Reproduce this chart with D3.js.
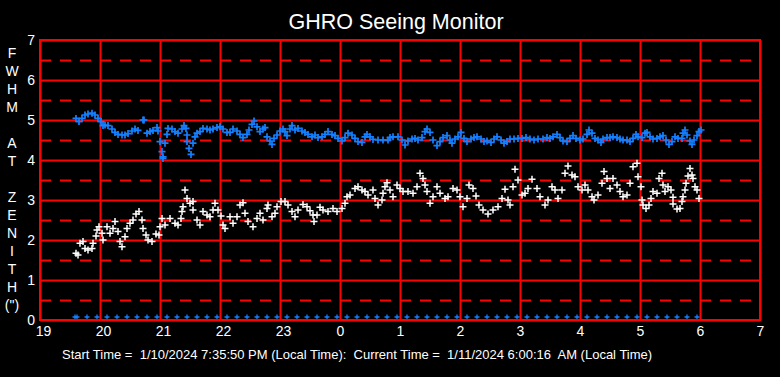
<!DOCTYPE html>
<html><head><meta charset="utf-8">
<script src="https://cdn.jsdelivr.net/npm/d3@7"></script>
<style>
html,body{margin:0;padding:0;background:#000;}
text{font-family:"Liberation Sans",Arial,sans-serif;fill:#fff;white-space:pre;}
</style></head>
<body>
<script>
// minutes since 19:00 local, FWHM (arcsec)
const blueSeries = [
[36,5.04],[39,4.96],[42,5.04],[45,5.125],[48,5.15],[52,5.17],[55,5.125],[58,5.04],[61,4.96],[63,4.86],
[65,4.875],[68,4.86],[72,4.775],[75,4.69],[78,4.64],[82,4.625],[85,4.625],[88,4.66],[92,4.725],[95,4.775],
[98,4.74],[103,5.0],[104,5.0],[107,4.67],[110,4.71],[113,4.74],[117,4.81],[118,4.725],[120,4.46],[125,4.42],
[122,4.21],[123,4.08],[123,4.04],[127,4.64],[128,4.79],[132,4.775],[135,4.71],[138,4.67],[142,4.775],[144,4.86],
[146,4.79],[147,4.625],[147,4.46],[149,4.29],[151,4.14],[153,4.42],[155,4.58],[157,4.67],[160,4.71],[163,4.79],
[167,4.775],[170,4.75],[173,4.775],[177,4.81],[180,4.83],[183,4.775],[187,4.69],[190,4.69],[193,4.775],[197,4.725],
[200,4.64],[203,4.56],[207,4.64],[209,4.75],[212,4.89],[214,4.975],[217,4.83],[220,4.71],[223,4.775],[225,4.81],
[227,4.58],[230,4.475],[232,4.39],[234,4.54],[237,4.625],[240,4.725],[243,4.775],[245,4.71],[247,4.61],[250,4.775],
[252,4.86],[255,4.75],[258,4.79],[262,4.725],[265,4.69],[268,4.64],[272,4.58],[275,4.625],[278,4.56],[282,4.58],
[285,4.64],[288,4.71],[292,4.64],[295,4.61],[298,4.54],[302,4.475],[305,4.56],[308,4.67],[312,4.625],[315,4.54],
[318,4.46],[322,4.44],[325,4.58],[327,4.64],[330,4.58],[333,4.515],[338,4.5],[343,4.5],[348,4.5],[350,4.56],
[353,4.58],[358,4.58],[362,4.5],[365,4.375],[368,4.475],[372,4.525],[375,4.54],[378,4.5],[382,4.56],[385,4.71],
[387,4.775],[390,4.69],[393,4.5],[397,4.36],[400,4.46],[403,4.56],[407,4.61],[410,4.5],[412,4.42],[415,4.525],
[418,4.58],[421,4.69],[424,4.54],[427,4.46],[431,4.525],[434,4.56],[437,4.58],[441,4.525],[444,4.46],[447,4.475],
[451,4.44],[454,4.525],[457,4.58],[461,4.5],[464,4.42],[467,4.46],[470,4.525],[474,4.525],[478,4.54],[482,4.54],
[486,4.56],[490,4.525],[494,4.5],[498,4.525],[503,4.525],[507,4.56],[510,4.54],[513,4.58],[517,4.64],[520,4.56],
[523,4.475],[527,4.46],[530,4.54],[533,4.61],[536,4.54],[540,4.5],[543,4.525],[547,4.64],[549,4.75],[552,4.67],
[555,4.54],[558,4.5],[561,4.44],[563,4.525],[567,4.56],[570,4.56],[573,4.58],[577,4.56],[580,4.525],[583,4.5],
[587,4.5],[590,4.46],[593,4.54],[596,4.64],[598,4.58],[602,4.56],[605,4.67],[607,4.69],[610,4.58],[613,4.525],
[617,4.54],[620,4.58],[623,4.61],[626,4.5],[629,4.39],[632,4.46],[635,4.58],[638,4.54],[642,4.54],[643,4.67],
[645,4.75],[647,4.625],[650,4.475],[652,4.39],[654,4.5],[657,4.61],[659,4.71],[661,4.75]
];
const whiteSeries = [
[36,1.67],[38,1.625],[40,1.92],[43,1.96],[45,1.79],[48,1.75],[52,1.79],[53,1.92],[56,2.1],[57,2.25],
[59,2.33],[62,2.17],[63,2.0],[67,2.33],[70,2.17],[73,2.29],[75,2.46],[78,2.21],[80,1.96],[82,1.83],
[85,2.08],[87,2.29],[90,2.42],[93,2.5],[96,2.65],[99,2.71],[102,2.5],[103,2.29],[106,2.125],[108,2.0],
[112,1.96],[116,2.15],[119,2.125],[122,2.54],[120,2.33],[125,2.375],[130,2.54],[135,2.42],[138,2.375],[141,2.54],
[142,2.71],[143,2.83],[145,3.25],[147,3.04],[150,2.92],[153,2.96],[153,2.75],[157,2.5],[160,2.375],[163,2.71],
[167,2.625],[170,2.58],[173,2.75],[175,2.92],[178,2.75],[181,2.6],[183,2.375],[185,2.29],[190,2.58],[193,2.42],
[197,2.58],[200,2.875],[203,2.93],[205,2.67],[208,2.46],[213,2.33],[217,2.54],[220,2.67],[223,2.5],[227,2.79],
[228,2.875],[232,2.58],[235,2.67],[237,2.83],[241,2.96],[245,2.96],[248,2.875],[252,2.71],[255,2.58],[258,2.75],
[263,2.89],[267,2.83],[270,2.73],[273,2.625],[274,2.46],[277,2.625],[280,2.82],[283,2.75],[288,2.71],[293,2.79],
[297,2.71],[302,2.79],[305,2.92],[307,3.08],[310,3.125],[315,3.29],[318,3.33],[322,3.25],[325,3.21],[328,3.125],
[333,3.25],[335,3.04],[338,2.875],[342,3.0],[343,3.17],[345,3.33],[347,3.43],[350,3.25],[353,3.08],[357,3.375],
[360,3.29],[363,3.21],[368,3.21],[373,3.17],[377,3.33],[380,3.67],[383,3.54],[385,3.375],[387,3.21],[390,2.92],
[393,3.08],[397,3.33],[400,3.17],[405,3.04],[408,3.08],[413,3.29],[417,3.25],[420,3.08],[423,2.83],[427,3.04],
[429,3.375],[433,3.29],[436,3.1],[439,2.875],[443,2.75],[448,2.65],[453,2.75],[458,2.83],[462,3.04],[465,3.27],
[468,3.0],[470,2.875],[473,3.33],[475,3.77],[478,3.5],[482,3.125],[485,3.17],[488,3.29],[492,3.52],[497,3.29],
[500,3.08],[505,2.875],[508,3.0],[512,3.33],[515,3.25],[518,3.04],[522,3.25],[525,3.67],[528,3.85],[532,3.625],
[535,3.58],[538,3.33],[542,3.25],[545,3.375],[548,3.25],[552,3.08],[554,3.0],[558,3.125],[562,3.42],[564,3.71],
[567,3.54],[570,3.29],[573,3.54],[577,3.375],[580,3.21],[583,3.08],[587,3.125],[590,3.42],[593,3.83],[597,3.92],
[598,3.58],[601,3.33],[602,3.0],[603,2.875],[606,2.79],[609,2.875],[611,3.04],[613,3.21],[617,3.17],[619,3.54],
[622,3.67],[623,3.375],[625,3.21],[628,3.33],[631,3.25],[633,3.07],[633,2.9],[637,2.775],[640,2.79],[642,2.96],
[643,3.08],[645,3.25],[646,3.42],[648,3.6],[650,3.79],[652,3.625],[653,3.54],[655,3.33],[657,3.25],[659,3.04]
];
// zero-valued samples along the baseline (minutes since 19:00)
const zeroMinutes = [35,37,47,57,67,77,87,97,107,117,127,137,147,157,167,177,187,197,207,217,227,237,247,257,267,277,287,297,307,317,327,337,347,357,367,377,387,397,407,417,427,437,447,457,467,477,487,497,507,517,527,537,547,557,567,577,587,597,607,617,627,637,647,657];
const xTickMinutes = [0,60,120,180,240,300,360,420,480,540,600,660,720];
const xTickLabels = ["19","20","21","22","23","0","1","2","3","4","5","6","7"];
const yTicks = [0,1,2,3,4,5,6,7];
const yHalfTicks = [0.5,1.5,2.5,3.5,4.5,5.5,6.5];
const yTitleLetters = ["F","W","H","M","","A","T","","Z","E","N","I","T","H","(\")"];
const titleText = "GHRO Seeing Monitor";
const footerText = "Start Time =  1/10/2024 7:35:50 PM (Local Time):  Current Time =  1/11/2024 6:00:16  AM (Local Time)";

const W = 780, H = 377;
const m = {l:40, r:20, t:40, b:57};
const svg = d3.select("body").append("svg").attr("width",W).attr("height",H);
svg.append("rect").attr("width",W).attr("height",H).attr("fill","#000");

const x = d3.scaleLinear().domain([0,720]).range([m.l, W-m.r]);
const y = d3.scaleLinear().domain([0,7]).range([H-m.b, m.t]);
const red = "#ff0000", blue = "#1580ff";
const font = "Liberation Sans, Arial, sans-serif";

// dashed half grid
const gHalf = svg.append("g").attr("transform",`translate(${m.l},0)`)
  .call(d3.axisLeft(y).tickValues(yHalfTicks).tickSize(-(W-m.l-m.r)).tickFormat(""));
gHalf.select(".domain").remove();
gHalf.selectAll("line").attr("stroke",red).attr("stroke-width",2).attr("stroke-dasharray","11,9").attr("x1",0);

// solid horizontal grid
const gH = svg.append("g").attr("transform",`translate(${m.l},0)`)
  .call(d3.axisLeft(y).tickValues(yTicks).tickSize(-(W-m.l-m.r)).tickFormat(""));
gH.select(".domain").remove();
gH.selectAll("line").attr("stroke",red).attr("stroke-width",2);

// solid vertical grid
const gV = svg.append("g").attr("transform",`translate(0,${H-m.b})`)
  .call(d3.axisBottom(x).tickValues(xTickMinutes).tickSize(-(H-m.t-m.b)).tickFormat(""));
gV.select(".domain").remove();
gV.selectAll("line").attr("stroke",red).attr("stroke-width",2);

// y labels
const yl = svg.append("g").attr("transform",`translate(${m.l},0)`)
  .call(d3.axisLeft(y).tickValues(yTicks).tickSize(0).tickPadding(5).tickFormat(d3.format("d")));
yl.select(".domain").remove();
yl.selectAll("text").attr("fill","#fff").style("font-size","14px").style("font-family",font);

// x labels
const xl = svg.append("g").attr("transform",`translate(0,${H-m.b})`)
  .call(d3.axisBottom(x).tickValues(xTickMinutes).tickSize(0).tickPadding(6).tickFormat((d,i)=>xTickLabels[i]));
xl.select(".domain").remove();
xl.selectAll("text").attr("fill","#fff").style("font-size","14px").style("font-family",font)
  .attr("dx",(d,i)=>xTickLabels[i].length>1 ? 3 : 0);

const plus = s => `M${-s},0H${s}M0,${-s}V${s}`;

// series
svg.append("g").selectAll("path").data(zeroMinutes).join("path")
  .attr("d", plus(2.5)).attr("transform", d=>`translate(${x(d)},${y(0)-3})`)
  .attr("stroke", blue).attr("stroke-width",1.3).attr("fill","none");
svg.append("g").selectAll("path").data(blueSeries).join("path")
  .attr("d", plus(3.5)).attr("transform", d=>`translate(${x(d[0])},${y(d[1])})`)
  .attr("stroke", blue).attr("stroke-width",1.7).attr("fill","none");
svg.append("g").selectAll("path").data(whiteSeries).join("path")
  .attr("d", plus(3.5)).attr("transform", d=>`translate(${x(d[0])},${y(d[1])})`)
  .attr("stroke", "#fff").attr("stroke-width",1.5).attr("fill","none");

// border
svg.append("rect").attr("x",m.l).attr("y",m.t).attr("width",W-m.l-m.r).attr("height",H-m.t-m.b)
  .attr("fill","none").attr("stroke",red).attr("stroke-width",2);

// title
svg.append("text").attr("x",W/2+6).attr("y",29).attr("text-anchor","middle").style("font-size","21.5px").text(titleText);

// vertical y title
svg.append("g").selectAll("text").data(yTitleLetters).join("text")
  .attr("x",12).attr("y",(d,i)=>53+i*18).attr("dy","0.35em").attr("text-anchor","middle")
  .style("font-size","14px").text(d=>d);

// footer
svg.append("text").attr("x",62).attr("y",359).style("font-size","13px").text(footerText);
</script>
</body></html>
